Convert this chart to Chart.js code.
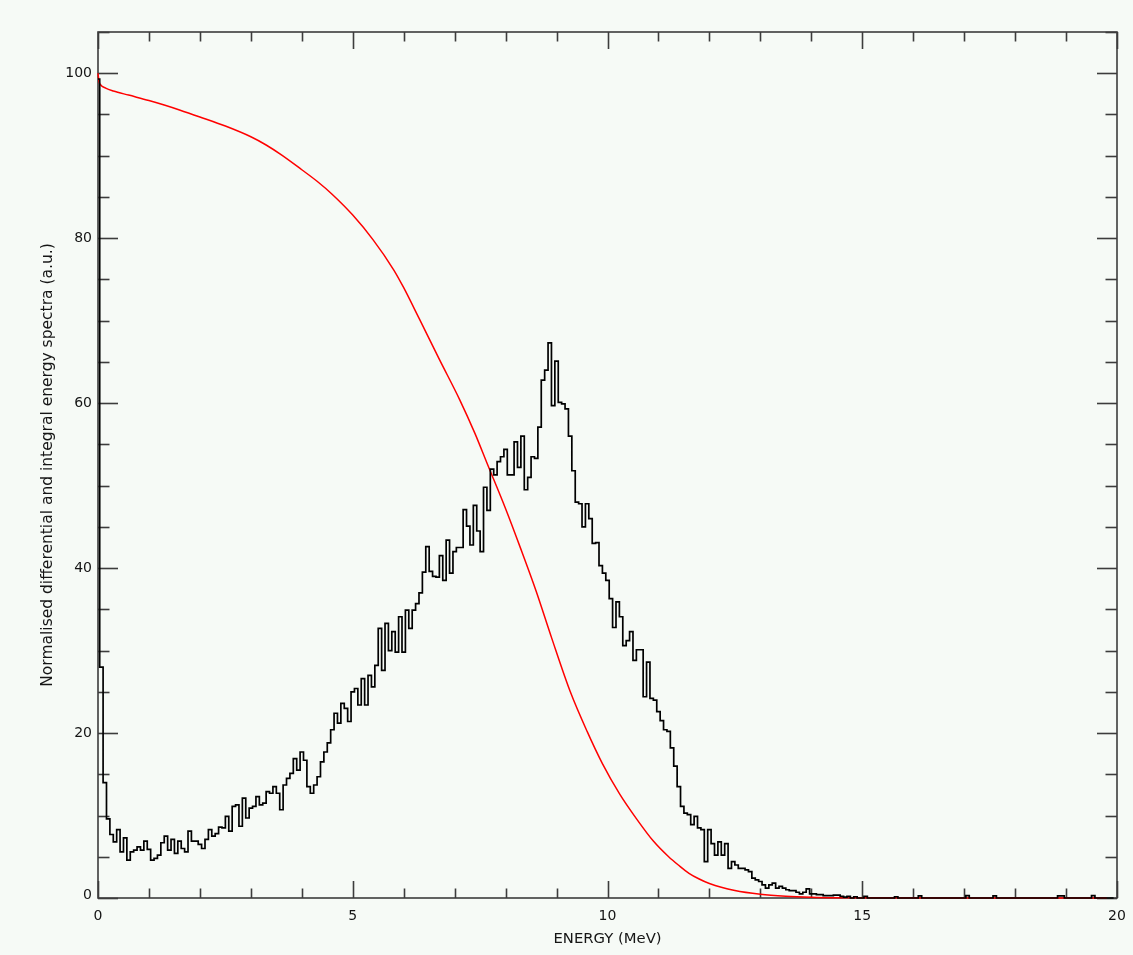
<!DOCTYPE html>
<html>
<head>
<meta charset="utf-8">
<title>Energy spectra</title>
<script src="https://cdn.jsdelivr.net/npm/chart.js@4.4.1/dist/chart.umd.min.js"></script>
<style>
  html, body { margin: 0; padding: 0; background: #f6faf6; }
  canvas { display: block; }
</style>
</head>
<body>
<canvas id="spectra" width="1133" height="955"></canvas>
<script>
// Differential spectrum: counts per energy bin (normalised), bins of 20/300 MeV
const binWidth = 20 / 300;
const diffValues = [
  99.3, 28, 14, 9.6, 7.7, 6.8, 8.3, 5.6, 7.3, 4.6, 5.6, 5.8, 6.2, 5.8, 6.9,
  5.9, 4.6, 4.8, 5.2, 6.7, 7.5, 5.8, 7.1, 5.4, 6.9, 6.0, 5.6, 8.1, 6.9, 6.9,
  6.5, 6.0, 7.1, 8.3, 7.5, 7.8, 8.6, 8.5, 9.9, 8.1, 11.1, 11.3, 8.7, 12.1, 9.7,
  10.9, 11.1, 12.3, 11.3, 11.5, 12.9, 12.7, 13.5, 12.7, 10.7, 13.7, 14.5, 15.1, 16.9, 15.5,
  17.7, 16.7, 13.5, 12.7, 13.7, 14.7, 16.5, 17.7, 18.8, 20.4, 22.4, 21.2, 23.6, 23.0, 21.4,
  25.0, 25.4, 23.4, 26.6, 23.4, 27.0, 25.6, 28.2, 32.7, 27.6, 33.3, 30.0, 32.3, 29.8, 34.1,
  29.8, 34.9, 32.7, 34.9, 35.7, 37.0, 39.5, 42.6, 39.6, 39.0, 38.9, 41.5, 38.5, 43.4, 39.4,
  42.0, 42.5, 42.5, 47.1, 45.1, 42.8, 47.6, 44.5, 42.0, 49.8, 47.0, 52.0, 51.3, 52.9, 53.5,
  54.4, 51.3, 51.3, 55.3, 52.2, 56.0, 49.5, 51.0, 53.5, 53.3, 57.1, 62.8, 64.0, 67.3, 59.7,
  65.1, 60.1, 59.9, 59.3, 56.0, 51.8, 48.0, 47.8, 45.0, 47.8, 46.0, 43.0, 43.1, 40.3, 39.4,
  38.5, 36.3, 32.8, 35.9, 34.1, 30.6, 31.2, 32.3, 28.8, 30.1, 30.1, 24.4, 28.6, 24.2, 24.0,
  22.6, 21.5, 20.4, 20.2, 18.2, 16.0, 13.5, 11.1, 10.3, 10.1, 8.9, 9.9, 8.5, 8.3, 4.4,
  8.3, 6.6, 5.2, 6.8, 5.2, 6.6, 3.6, 4.4, 4.0, 3.6, 3.6, 3.4, 3.2, 2.4, 2.2,
  2.0, 1.6, 1.2, 1.6, 1.8, 1.2, 1.4, 1.2, 1.0, 0.9, 0.9, 0.7, 0.5, 0.7, 1.1,
  0.5, 0.5, 0.4, 0.4, 0.3, 0.3, 0.3, 0.35, 0.35, 0.2, 0.1, 0.2, 0, 0.15, 0,
  0, 0.2, 0, 0, 0, 0, 0, 0, 0, 0, 0.15, 0, 0, 0, 0,
  0, 0, 0.25, 0, 0, 0, 0, 0, 0, 0, 0, 0, 0, 0, 0,
  0, 0.3, 0, 0, 0, 0, 0, 0, 0, 0.25, 0, 0, 0, 0, 0,
  0, 0, 0, 0, 0, 0, 0, 0, 0, 0, 0, 0, 0, 0.25, 0.25,
  0, 0, 0, 0, 0, 0, 0, 0, 0.3, 0, 0, 0, 0, 0, 0
];

// Integral spectrum (percentage of particles above a given energy)
const intEnergy = [0, 0.02, 0.05, 0.15, 0.3, 0.6, 1.0, 1.3, 1.6, 2.0, 2.5, 3.0, 3.3, 3.6,
  4.0, 4.3, 4.6, 5.0, 5.4, 5.8, 6.0, 6.3, 6.7, 7.1, 7.4, 7.63, 8.0, 8.3, 8.6, 8.9,
  9.27, 9.6, 9.9, 10.24, 10.57, 10.9, 11.2, 11.4, 11.6, 11.8, 12.0, 12.5, 13.0, 13.5,
  14.0, 14.5, 15.0, 17.0, 19.8];
const intValues = [100, 99.0, 98.6, 98.2, 97.85, 97.35, 96.7, 96.15, 95.55, 94.7, 93.6, 92.3, 91.3, 90.1,
  88.3, 86.9, 85.3, 82.8, 79.8, 76.2, 74.0, 70.3, 65.3, 60.4, 56.3, 52.8, 47.2, 42.3, 37.2, 31.6,
  25.0, 20.2, 16.3, 12.6, 9.6, 6.9, 5.0, 3.95, 3.0, 2.3, 1.75, 0.9, 0.45, 0.22,
  0.1, 0.04, 0.02, 0, 0];

// Axis ranges and tick marks
const xRange = [0, 20];
const yRange = [0, 105];
const xMajorTicks = [0, 5, 10, 15, 20];
const xTickLabels = ['0', '5', '10', '15', '20'];
const xMinorStep = 1;
const yMajorTicks = [0, 20, 40, 60, 80, 100];
const yTickLabels = ['0', '20', '40', '60', '80', '100'];
const yMinorStep = 5;
const xTitle = 'ENERGY (MeV)';
const yTitle = 'Normalised differential and integral energy spectra (a.u.)';

const BG = '#f6faf6';
const AXIS = '#3c3c3c';
const TEXT = '#151515';
const TICK_FONT = '14px "DejaVu Sans", sans-serif';
const XTITLE_FONT = '14.8px "DejaVu Sans", sans-serif';
const YTITLE_FONT = '15.5px "DejaVu Sans", sans-serif';

const diffPoints = diffValues.map((v, i) => ({ x: i * binWidth, y: v }));
const intPoints = intEnergy.map((e, i) => ({ x: e, y: intValues[i] }));

// Background, boxed frame with inward ticks on all four sides, labels and titles
const frame = {
  id: 'frame',
  beforeDraw(chart) {
    const { ctx, width, height } = chart;
    ctx.save();
    ctx.fillStyle = BG;
    ctx.fillRect(0, 0, width, height);
    ctx.restore();
  },
  beforeDatasetsDraw(chart) {
    const { ctx, chartArea: a, scales: { x, y } } = chart;
    ctx.save();
    ctx.strokeStyle = AXIS;
    ctx.lineWidth = 1.6;
    ctx.lineCap = 'butt';
    ctx.strokeRect(a.left, a.top, a.right - a.left, a.bottom - a.top);

    const line = (x1, y1, x2, y2) => {
      ctx.beginPath(); ctx.moveTo(x1, y1); ctx.lineTo(x2, y2); ctx.stroke();
    };
    // x ticks (bottom and top)
    for (let e = xRange[0]; e <= xRange[1] + 1e-9; e += xMinorStep) {
      const px = Math.round(x.getPixelForValue(e)) + 0.5;
      const len = xMajorTicks.includes(e) ? 17 : 9.5;
      line(px, a.bottom, px, a.bottom - len);
      line(px, a.top, px, a.top + len);
    }
    // y ticks (left and right)
    for (let v = yRange[0]; v <= yRange[1] + 1e-9; v += yMinorStep) {
      const py = Math.round(y.getPixelForValue(v)) + 0.5;
      const len = yMajorTicks.includes(v) ? 20 : 11.5;
      line(a.left, py, a.left + len, py);
      line(a.right, py, a.right - len, py);
    }

    ctx.fillStyle = TEXT;
    ctx.font = TICK_FONT;
    ctx.textAlign = 'center';
    ctx.textBaseline = 'middle';
    xMajorTicks.forEach((e, i) => {
      ctx.fillText(xTickLabels[i], x.getPixelForValue(e), a.bottom + 18);
    });
    ctx.textAlign = 'right';
    yMajorTicks.forEach((v, i) => {
      const py = y.getPixelForValue(v) - (v === 0 ? 3 : 0);
      ctx.fillText(yTickLabels[i], a.left - 6, py);
    });

    ctx.textAlign = 'center';
    ctx.font = XTITLE_FONT;
    ctx.fillText(xTitle, (a.left + a.right) / 2, a.bottom + 41);
    ctx.font = YTITLE_FONT;
    ctx.translate(48, (a.top + a.bottom) / 2);
    ctx.rotate(-Math.PI / 2);
    ctx.fillText(yTitle, 0, 0);
    ctx.restore();
  }
};

new Chart(document.getElementById('spectra'), {
  type: 'line',
  data: {
    datasets: [
      {
        label: 'differential',
        data: diffPoints,
        stepped: 'middle',
        borderColor: '#000000',
        borderWidth: 1.7,
        pointRadius: 0,
        fill: false,
        clip: 3
      },
      {
        label: 'integral',
        data: intPoints,
        borderColor: '#ff0000',
        borderWidth: 1.5,
        pointRadius: 0,
        fill: false,
        cubicInterpolationMode: 'monotone',
        clip: 3
      }
    ]
  },
  options: {
    responsive: false,
    devicePixelRatio: 1,
    animation: false,
    events: [],
    layout: { padding: { left: 98, right: 16, top: 32, bottom: 57 } },
    scales: {
      x: { type: 'linear', min: xRange[0], max: xRange[1], display: false },
      y: { type: 'linear', min: yRange[0], max: yRange[1], display: false }
    },
    plugins: { legend: { display: false }, tooltip: { enabled: false } }
  },
  plugins: [frame]
});
</script>
</body>
</html>
